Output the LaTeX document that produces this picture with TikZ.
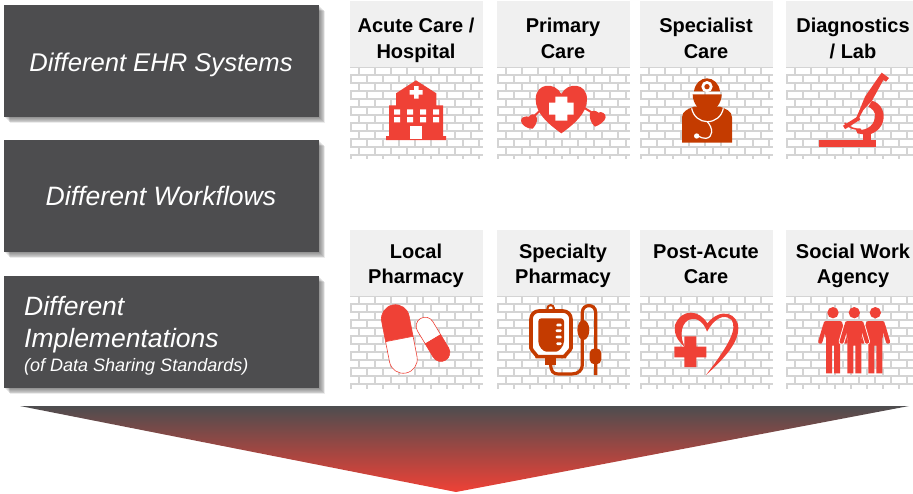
\documentclass[tikz,border=0pt]{standalone}
\usepackage{fontspec}
\setmainfont{Liberation Sans}
\definecolor{slate}{HTML}{4D4D4F}
\definecolor{hdr}{HTML}{F0F0F0}
\definecolor{brick}{HTML}{D4D4D4}
\definecolor{redA}{HTML}{EF4136}
\definecolor{redB}{HTML}{C43B00}
\tikzset{
 cardlabel/.style={font=\fontsize{20}{25.5}\selectfont\bfseries,text=black,align=center,inner sep=0pt},
 sidelabel/.style={font=\fontsize{26}{32}\selectfont\itshape,text=white,inner sep=0pt,align=left},
 sidebox/.style={fill=slate,draw=none},
 brickline/.style={draw=brick,line width=1.2pt},
}
\newcommand{\sidepanel}[2]{%
 \foreach \o in {1,...,7}{\fill[black,opacity=.075] (4+\o*.9,#1+\o*.9) rectangle (319+\o*.9,#2+\o*.9);}
 \fill[sidebox] (4,#1) rectangle (319,#2);}
\newcommand{\wall}[4]{%
 \begin{scope}
 \clip (#1,#2) rectangle (#3,#4);
 \foreach \r in {0,...,13}{
  \draw[brickline] (#1,#2+\r*8) -- (#3,#2+\r*8);
  \pgfmathsetmacro{\off}{mod(\r,2)==0 ? 9 : 1}
  \foreach \i in {0,...,9}{\draw[brickline] (#1+\off+\i*16,#2+\r*8) -- (#1+\off+\i*16,#2+\r*8+8);}
 }
 \end{scope}}
\newcommand{\card}[4]{\fill[hdr] (#1,#2) rectangle (#3,#2+66);\wall{#1}{#2+66}{#3}{#4}}
\newcommand{\capsule}[7]{% cx cy rot halflen r topstyle botstyle
 \begin{scope}[shift={(#1,#2)},rotate=#3,y=1pt]
 \filldraw[#6] (-#5,0) -- (-#5,#4) arc[start angle=180,end angle=0,radius=#5] -- (#5,0) -- cycle;
 \filldraw[#7] (-#5,0) -- (-#5,-#4) arc[start angle=180,end angle=360,radius=#5] -- (#5,0) -- cycle;
 \end{scope}}
\newcommand{\person}[1]{%
 \draw[redA,line width=4.2pt,line cap=round] (#1-24,302) -- (#1-38,350) (#1+24,302) -- (#1+38,350);
 \fill[redA] (#1,263) circle[radius=17];
 \fill[redA,rounded corners=3pt] (#1-30,288) -- (#1+30,288) -- (#1+21,345) -- (#1-21,345) -- cycle;
 \fill[redA] (#1-21,335) rectangle (#1+21,362) (#1-21,360) rectangle (#1-3,445) (#1+3,360) rectangle (#1+21,445);}
\newcommand{\haloperson}[1]{%
 \draw[white,line width=6pt,line cap=round] (#1-24,302) -- (#1-38,350) (#1+24,302) -- (#1+38,350);
 \person{#1}}
\begin{document}
\begin{tikzpicture}[x=1pt,y=-1pt]
\useasboundingbox (0,0) rectangle (913,493);
% left panels
\sidepanel{5}{117}
\sidepanel{140}{252}
\sidepanel{276}{388}
\node[sidelabel,anchor=base,font=\fontsize{25.6}{32}\selectfont\itshape] (sys) at (161,71) {Different EHR Systems};
\node[sidelabel,anchor=base,font=\fontsize{26.6}{32}\selectfont\itshape] (flow) at (161,205) {Different Workflows};
\node[sidelabel,anchor=base west,font=\fontsize{26.5}{32}\selectfont\itshape] (impA) at (24,315) {Different};
\node[sidelabel,anchor=base west,font=\fontsize{26.5}{32}\selectfont\itshape] (impB) at (24,347) {Implementations};
\node[sidelabel,anchor=base west,font=\fontsize{18}{22}\selectfont\itshape] (impC) at (24,371) {(of Data Sharing Standards)};
% cards
\card{350}{1}{483}{158}
\card{497}{1}{630}{158}
\card{640}{1}{773}{158}
\card{786}{1}{913}{158}
\card{350}{230}{483}{388}
\card{497}{230}{630}{388}
\card{640}{230}{773}{388}
\card{786}{230}{913}{388}
\node[cardlabel] (c1) at (416,40.4) {\strut Acute Care /\\\strut Hospital};
\node[cardlabel] (c2) at (563,40.4) {\strut Primary\\\strut Care};
\node[cardlabel] (c3) at (706,40.4) {\strut Specialist\\\strut Care};
\node[cardlabel] (c4) at (853,40.4) {\strut Diagnostics\\\strut / Lab};
\node[cardlabel] (c5) at (416,265.9) {\strut Local\\\strut Pharmacy};
\node[cardlabel] (c6) at (563,265.9) {\strut Specialty\\\strut Pharmacy};
\node[cardlabel] (c7) at (706,265.9) {\strut Post-Acute\\\strut Care};
\node[cardlabel] (c8) at (853,265.9) {\strut Social Work\\\strut Agency};
% hospital
\begin{scope}[shift={(340,0)},scale=1/3]
\fill[redA] (138,408) -- (147,408) -- (147,316) -- (168,316) -- (168,280) -- (228,241) -- (289,280) -- (289,316) -- (309,316) -- (309,408) -- (318,408) -- (318,420) -- (138,420) -- cycle;
\fill[white] (222,258) rectangle (236,296) (209,270) rectangle (248,284);
\foreach \x in {162,201,240,279}{\fill[white] (\x,328) rectangle (\x+18,344) (\x,351) rectangle (\x+18,367);}
\fill[white] (209,378) rectangle (246,416);
% primary heart
\draw[redA,line width=2pt] (600,332) -- (572,358) (730,322) -- (768,345);
\fill[redA] (664,400) .. controls (625,372) and (587,340) .. (587,298) .. controls (587,248) and (645,245) .. (664,282) .. controls (683,245) and (741,248) .. (741,298) .. controls (741,340) and (703,372) .. (664,400) -- cycle;
\fill[white] (646,290) rectangle (682,362) (627,308) rectangle (701,344);
\fill[redA] (578,386) .. controls (565,388) and (542,375) .. (543,362) .. controls (543,350) and (558,348) .. (567,350) .. controls (572,338) and (590,342) .. (591,355) .. controls (592,368) and (585,378) .. (578,386) -- cycle;
\fill[redA] (765,380) .. controls (752,370) and (747,350) .. (750,340) .. controls (755,328) and (770,332) .. (775,338) .. controls (785,332) and (798,342) .. (797,352) .. controls (795,365) and (778,375) .. (765,380) -- cycle;
\end{scope}
% specialist, microscope
\begin{scope}[shift={(630,0)},scale=1/3]
\fill[redB] (156,428) -- (156,352) .. controls (156,332) and (178,326) .. (192,320) -- (270,320) .. controls (285,326) and (306,332) .. (306,352) -- (306,428) -- cycle;
\fill[redB] (188,283) -- (275,283) .. controls (275,310) and (255,335) .. (231,335) .. controls (207,335) and (188,310) .. (188,283) -- cycle;
\fill[redB] (192,274) .. controls (195,250) and (212,235) .. (231,235) .. controls (250,235) and (267,250) .. (270,274) -- cycle;
\fill[white] (231,260) circle[radius=17];
\fill[redB] (231,260) circle[radius=8];
\draw[white,line width=1.2pt] (185,325) .. controls (190,350) and (210,365) .. (232,365) .. controls (255,365) and (275,350) .. (280,325);
\draw[white,line width=1.2pt] (232,365) .. controls (250,385) and (250,412) .. (228,415) .. controls (220,416) and (212,412) .. (204,408);
\fill[white] (200,408) circle[radius=8];
% microscope
\fill[redA] (567,420) rectangle (738,440);
\fill[redA] (698,400) rectangle (722,421);
\fill[redA] (755,218) -- (777,234) -- (768,245) -- (760,240) -- (726,302) -- (700,330) -- (685,358) -- (678,355) -- (692,322) -- (705,290) -- (745,232) -- cycle;
\fill[redA] (726,302) .. controls (755,310) and (765,340) .. (760,360) .. controls (755,385) and (735,400) .. (712,405) -- (682,400) -- (678,390) .. controls (700,392) and (730,385) .. (735,352) .. controls (738,335) and (725,325) .. (715,320) -- cycle;
\fill[redA,rotate around={32:(665,368)}] (638,362) rectangle (692,374);
\draw[redA,line width=1.6pt,line cap=round] (645,370) .. controls (660,385) and (675,388) .. (692,388);
\end{scope}
% pills, IV
\begin{scope}[shift={(340,225)},scale=1/3]
\capsule{178}{342}{11}{62}{42}{fill=redA,draw=redA,line width=.6pt}{fill=white,draw=redA,line width=.6pt}
\capsule{279}{343}{31}{46}{27}{fill=white,draw=redA,line width=.6pt}{fill=redA,draw=redA,line width=.6pt}
\fill[redB] (632,250) circle[radius=13];
\fill[white] (632,250) circle[radius=6];
\draw[redB,line width=3.6pt,fill=white,rounded corners=8pt] (573,258) -- (693,258) -- (693,345) .. controls (693,375) and (670,395) .. (650,395) -- (615,395) .. controls (595,395) and (573,375) .. (573,345) -- cycle;
\fill[redB,rounded corners=3pt] (595,280) -- (672,280) -- (672,340) .. controls (672,365) and (655,380) .. (640,380) -- (628,380) .. controls (610,380) and (595,365) .. (595,340) -- cycle;
\foreach \y/\w in {300/14,317/16,336/16,356/14}{\fill[white,rounded corners=1pt] (663-\w,\y-4) rectangle (665,\y+4);}
\fill[redB] (615,395) rectangle (648,420);
\draw[redB,line width=3.2pt] (632,415) .. controls (632,440) and (640,447) .. (655,447) -- (695,447) .. controls (715,447) and (727,435) .. (727,420) -- (727,262) .. controls (727,235) and (767,235) .. (767,262) -- (767,450);
\fill[redB] (730,315) ellipse[x radius=18,y radius=30];
\fill[redB,rounded corners=2pt] (749,378) -- (758,370) -- (775,370) -- (784,378) -- (784,410) -- (775,418) -- (758,418) -- (749,410) -- cycle;
\end{scope}
% post-acute heart, people
\begin{scope}[shift={(630,225)},scale=1/3]
\fill[redA] (228,450) .. controls (290,395) and (325,350) .. (325,310) .. controls (325,265) and (272,245) .. (232,295) .. controls (210,255) and (155,248) .. (135,300) .. controls (130,335) and (150,352) .. (165,367) .. controls (150,340) and (150,300) .. (175,285) .. controls (205,272) and (225,300) .. (231,320) .. controls (250,285) and (280,262) .. (305,285) .. controls (320,310) and (305,350) .. (228,450) -- cycle;
\fill[redA] (163,334) rectangle (199,426) (133,365) rectangle (229,397);
\person{609}
\person{736}
\haloperson{673}
\end{scope}
% funnel
\shade[top color=slate,bottom color=redA] (20,406) -- (909,406) -- (456,492) -- cycle;
\end{tikzpicture}
\end{document}
